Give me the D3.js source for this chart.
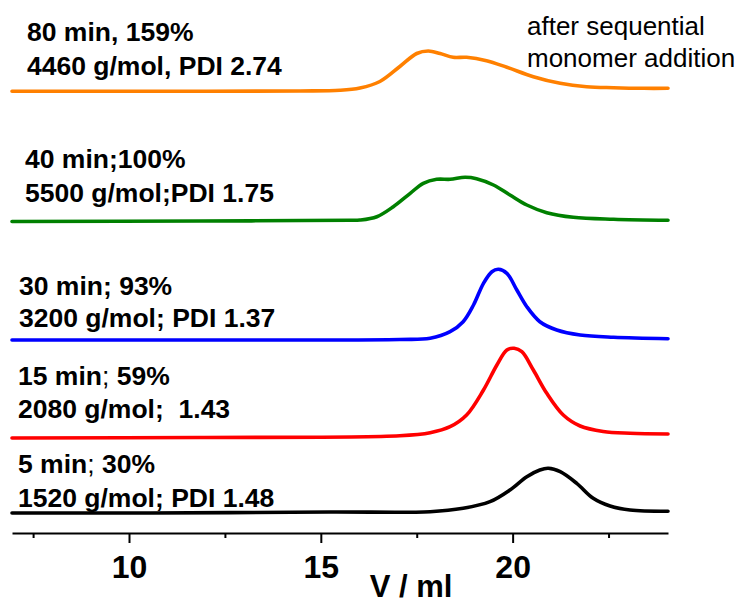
<!DOCTYPE html>
<html>
<head>
<meta charset="utf-8">
<script src="https://cdn.jsdelivr.net/npm/d3@7"></script>
<style>
  html, body { margin: 0; padding: 0; background: #fff; }
  svg { display: block; font-family: "Liberation Sans", Arial, sans-serif; }
  .lbl { font-size: 26.5px; font-weight: 700; fill: #000; white-space: pre; }
  .note { font-size: 26px; font-weight: 400; fill: #000; }
  .axis path, .axis line { stroke: #000; stroke-width: 2; }
  .axis text { font-size: 32px; font-weight: 700; fill: #000; font-family: "Liberation Sans", Arial, sans-serif; }
</style>
</head>
<body>
<div id="chart"></div>
<script>
/* GPC traces, elution volume (ml) vs. detector signal, stacked with offsets */

// elution volume / signal above the trace's own baseline
const v5 = [6.95, 10.55, 15.24, 17.85, 18.71, 19.41, 19.93, 20.37, 20.71, 20.93, 21.24, 21.67, 22.10, 22.54, 23.06, 24.05];
const s5 = [0, 0, 0.2, 0.26, 0.94, 2.26, 4.6, 7.26, 8.6, 8.94, 8.26, 5.94, 2.94, 1.4, 0.6, 0.36];

const v15 = [6.95, 11.85, 17.06, 17.85, 18.37, 18.80, 19.24, 19.59, 19.85, 20.04, 20.24, 20.54, 20.89, 21.32, 21.76, 22.36, 23.06, 24.05];
const s15 = [0, 0.1, 0.46, 1.06, 2.26, 4.6, 9.6, 14.6, 17.6, 17.94, 17.26, 13.6, 8.94, 4.6, 2.4, 1.3, 0.95, 0.8];

const v30 = [6.95, 11.85, 17.06, 17.85, 18.37, 18.71, 18.98, 19.24, 19.46, 19.63, 19.85, 20.11, 20.37, 20.71, 21.15, 21.76, 22.63, 24.05];
const s30 = [0, 0, 0.1, 0.34, 1.66, 3.66, 7.0, 11.34, 13.66, 14.14, 13.34, 10.0, 6.66, 3.66, 2.0, 1.0, 0.54, 0.26];

const v40 = [6.95, 11.85, 15.76, 16.02, 16.46, 16.89, 17.33, 17.67, 18.02, 18.37, 18.76, 19.06, 19.50, 19.93, 20.37, 20.89, 21.58, 22.63, 24.05];
const s40 = [0, 0.1, 0.24, 0.3, 0.96, 2.96, 5.64, 7.64, 8.44, 8.44, 8.84, 8.56, 7.3, 5.3, 3.3, 1.76, 0.84, 0.44, 0.24];

const v80 = [6.95, 10.55, 14.46, 15.5, 16.02, 16.54, 17.06, 17.50, 17.80, 18.11, 18.45, 18.80, 19.32, 19.85, 20.54, 21.24, 21.93, 22.63, 23.41, 24.05];
const s80 = [0.04, 0.06, 0.1, 0.24, 0.7, 2.0, 5.0, 7.6, 8.1, 7.6, 6.84, 6.84, 6.16, 4.84, 2.96, 1.64, 0.96, 0.76, 0.64, 0.64];

const offsets = [4, 19, 38.6, 62.3, 88.3];
const colors = ["#000000", "#ff0000", "#0000ff", "#008000", "#ff8000"];

const majorTicks = [10, 15, 20];
const minorTicks = [7.5, 12.5, 17.5, 22.5];

// label lines: [text, bold?] segments per line
const labels = [
  { x: 18, y: [473, 507], lines: [[["5 min", 1], ["; ", 0], ["30%", 1]], [["1520 g/mol; PDI 1.48", 1]]] },
  { x: 18, y: [385, 418], lines: [[["15 min", 1], ["; ", 0], ["59%", 1]], [["2080 g/mol;  1.43", 1]]] },
  { x: 19, y: [295, 327], lines: [[["30 min; 93%", 1]], [["3200 g/mol; PDI 1.37", 1]]] },
  { x: 25, y: [168, 202], lines: [[["40 min;100%", 1]], [["5500 g/mol;PDI 1.75", 1]]] },
  { x: 27, y: [41, 75], lines: [[["80 min, 159%", 1]], [["4460 g/mol, PDI 2.74", 1]]] },
];
const note = ["after sequential", "monomer addition"];

const W = 748, H = 605;
const svg = d3.select("#chart").append("svg").attr("width", W).attr("height", H);

const x = d3.scaleLinear().domain([6.95, 24.05]).range([12, 668]);
const y = d3.scaleLinear().domain([0, 100]).range([533, 33]);

const traces = [[v5, s5], [v15, s15], [v30, s30], [v40, s40], [v80, s80]];
traces.forEach(([vs, ss], i) => {
  const pts = vs.map((v, j) => [v, ss[j] + offsets[i]]);
  const line = d3.line().x(d => x(d[0])).y(d => y(d[1])).curve(d3.curveCatmullRom.alpha(0.5));
  svg.append("path").datum(pts)
    .attr("fill", "none").attr("stroke", colors[i]).attr("stroke-width", 3.6)
    .attr("stroke-linejoin", "round").attr("stroke-linecap", "round")
    .attr("d", line);
});

// x axis: major + minor ticks
const gx = svg.append("g").attr("class", "axis").attr("transform", `translate(0,${y(0)})`)
  .call(d3.axisBottom(x).tickValues(majorTicks).tickSize(10).tickSizeOuter(0).tickFormat(d3.format("d")));
gx.selectAll("text").attr("y", 45).attr("dy", 0);
svg.append("g").attr("class", "axis").attr("transform", `translate(0,${y(0)})`)
  .call(d3.axisBottom(x).tickValues(minorTicks).tickSize(5).tickSizeOuter(0).tickFormat(""))
  .select(".domain").remove();

svg.append("text")
  .attr("x", 411).attr("y", 597).attr("text-anchor", "middle")
  .attr("font-size", 31).attr("font-weight", 700)
  .text("V / ml");

// sample labels
labels.forEach(l => {
  l.lines.forEach((segs, k) => {
    const t = svg.append("text").attr("class", "lbl").attr("x", l.x).attr("y", l.y[k]);
    segs.forEach(s => t.append("tspan").attr("font-weight", s[1] ? 700 : 400).text(s[0]));
  });
});

note.forEach((s, k) => {
  svg.append("text").attr("class", "note").attr("x", 527).attr("y", 35 + k * 32).text(s);
});
</script>
</body>
</html>
